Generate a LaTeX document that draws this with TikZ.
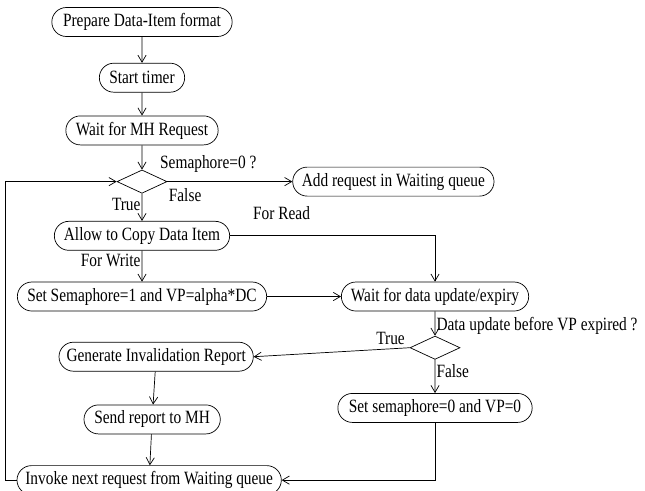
\documentclass[tikz,border=0pt]{standalone}
\usepackage{fontspec}
\setmainfont{Liberation Serif}[FakeStretch=0.82]
\usetikzlibrary{arrows.meta,positioning,shapes.geometric,shapes.misc}

\begin{document}
\begin{tikzpicture}[
    stage/.style={draw, rounded rectangle, minimum height=0.87cm, inner sep=2pt, font=\fontsize{16}{18}\selectfont},
    decision/.style={draw, diamond, minimum width=1.5cm, minimum height=0.7cm, inner sep=0pt},
    lbl/.style={inner sep=1pt, font=\fontsize{16}{18}\selectfont},
    arrow/.style={-{Straight Barb[length=6pt,width=7pt]}},
    line width=0.6pt,
    node distance=0.8cm
]

    \useasboundingbox (0,0) rectangle (19.35,-14.7);

    % left column
    \node[stage, minimum width=5.55cm] (prepare) at (4.26,-0.66) {Prepare Data-Item format};
    \node[stage, minimum width=2.7cm, below=0.78cm of prepare] (timer) {Start timer};
    \node[stage, minimum width=4.71cm, below=0.69cm of timer] (waitmh) {Wait for MH Request};
    \node[decision, below=0.73cm of waitmh] (semcheck) {};
    \node[stage, minimum width=5.4cm, below=0.82cm of semcheck] (allow) {Allow to Copy Data Item};
    \node[stage, minimum width=7.62cm, below=0.93cm of allow] (setsem) {Set Semaphore=1 and VP=alpha*DC};

    % right column
    \node[stage, minimum width=6.18cm, right=3.75cm of semcheck] (addq) {Add request in Waiting queue};
    \node[stage, minimum width=5.76cm, right=2.22cm of setsem] (waitupd) {Wait for data update/expiry};
    \node[decision, below=0.73cm of waitupd] (updcheck) {};
    \node[stage, minimum width=5.97cm, below=1cm of updcheck] (setzero) {Set semaphore=0 and VP=0};

    % report branch
    \node[stage, minimum width=5.97cm, left=4.68cm of updcheck, yshift=-0.27cm] (geninv) {Generate Invalidation Report};
    \node[stage, minimum width=4.23cm, below=0.99cm of geninv, xshift=-0.12cm] (send) {Send report to MH};
    \node[stage, minimum width=8.07cm, below=0.93cm of send, xshift=-0.09cm] (invoke) {Invoke next request from Waiting queue};

    % labels
    \node[lbl, anchor=south west, xshift=0.5cm, yshift=-0.12cm] (semlbl) at (semcheck.north) {Semaphore=0 ?};
    \node[lbl, anchor=north east, yshift=-0.1cm] (truea) at (semcheck.south) {True};
    \node[lbl, anchor=north west, yshift=-0.15cm] (falsea) at (semcheck.east) {False};
    \node[lbl, anchor=south west, xshift=0.65cm, yshift=0.45cm] (readlbl) at (allow.east) {For Read};
    \node[lbl, anchor=north east, yshift=-0.05cm] (writelbl) at (allow.south) {For Write};
    \node[lbl, anchor=south west] (updlbl) at (updcheck.north) {Data update before VP expired ?};
    \node[lbl, anchor=south east, xshift=-0.1cm, yshift=0.05cm] (trueb) at (updcheck.west) {True};
    \node[lbl, anchor=north west, yshift=-0.1cm] (falseb) at (updcheck.south) {False};

    \draw[arrow] (prepare) -- (timer);
    \draw[arrow] (timer) -- (waitmh);
    \draw[arrow] (waitmh) -- (semcheck);
    \draw[arrow] (semcheck) -- (addq);
    \draw[arrow] (semcheck) -- (allow);
    \draw[arrow] (allow) -- (setsem);
    \draw[arrow] (allow.east) -| (waitupd.north);
    \draw[arrow] (setsem) -- (waitupd);
    \draw[arrow] (waitupd) -- (updcheck);
    \draw[arrow] (updcheck.west) -- (geninv.east);
    \draw[arrow] (updcheck) -- (setzero);
    \draw[arrow] (geninv) -- (send);
    \draw[arrow] (send) -- (invoke);
    \draw[arrow] (setzero.south) |- (invoke.east);
    \draw[arrow] (invoke.west) -- ++(-0.33,0) |- (semcheck.west);

\end{tikzpicture}
\end{document}
